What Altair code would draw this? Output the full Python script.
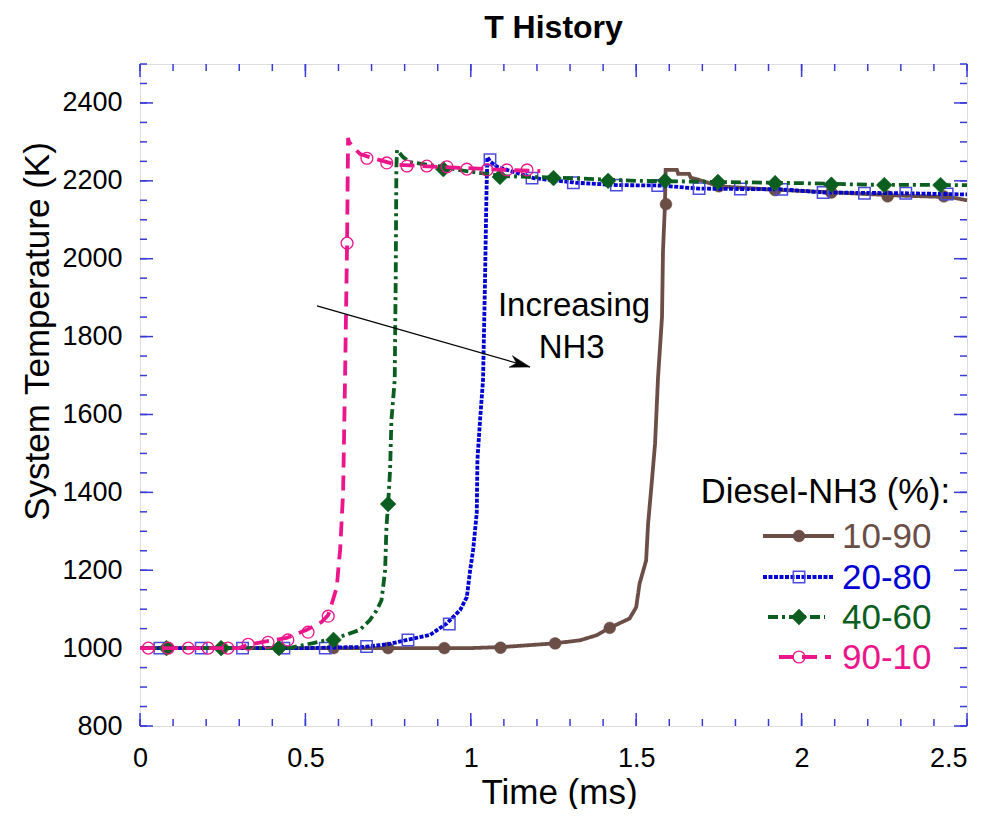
import altair as alt
import pandas as pd

# ---------------- data ----------------
series_labels = ["10-90", "20-80", "40-60", "90-10"]

t_1090 = [0, 0.5, 1.0, 1.1, 1.25, 1.33, 1.38, 1.42, 1.48, 1.50, 1.51, 1.53, 1.536, 1.547,
          1.557, 1.566, 1.578, 1.581, 1.587, 1.589, 1.623, 1.627, 1.66, 1.665, 1.70, 1.75,
          1.9, 2.0, 2.1, 2.3, 2.45, 2.5]
T_1090 = [1000, 1000, 1000, 1003, 1012, 1020, 1033, 1052, 1076, 1105, 1165, 1225, 1320, 1425,
          1525, 1695, 1850, 2020, 2140, 2228, 2228, 2218, 2218, 2208, 2200, 2186,
          2178, 2174, 2170, 2162, 2158, 2150]
mt_1090 = [0.085, 0.25, 0.42, 0.585, 0.75, 0.92, 1.09, 1.255, 1.42, 1.59, 1.75, 1.92, 2.09, 2.26, 2.43]
mT_1090 = [1000, 1000, 1000, 1000, 1000, 1000, 1001, 1012, 1052, 2140, 2186, 2176, 2170, 2160, 2160]

t_2080 = [0, 0.5, 0.675, 0.75, 0.807, 0.877, 0.928, 0.968, 0.988, 0.998, 1.007, 1.018, 1.02,
          1.028, 1.037, 1.043, 1.046, 1.048, 1.05, 1.058, 1.08, 1.14, 1.19, 1.32, 1.44, 1.57,
          1.69, 1.94, 2.07, 2.32, 2.5]
T_2080 = [1000, 1000, 1003, 1010, 1021, 1034, 1064, 1098, 1131, 1200, 1252, 1347, 1483,
          1586, 1689, 1945, 2100, 2194, 2261, 2250, 2236, 2220, 2207, 2195, 2189, 2188,
          2180, 2178, 2170, 2168, 2165]
mt_2080 = [0.06, 0.185, 0.31, 0.435, 0.56, 0.685, 0.81, 0.935, 1.058, 1.185, 1.31, 1.44,
           1.565, 1.69, 1.815, 1.94, 2.065, 2.19, 2.315, 2.44]
mT_2080 = [1000, 1000, 1000, 1000, 1000, 1004, 1021, 1062, 2254, 2207, 2195, 2189,
           2188, 2180, 2179, 2178, 2170, 2168, 2168, 2166]

t_4060 = [0, 0.45, 0.524, 0.595, 0.665, 0.695, 0.716, 0.73, 0.735, 0.741, 0.745, 0.75, 0.756,
          0.76, 0.77, 0.773, 0.775, 0.777, 0.795, 0.816, 0.92, 0.977, 1.1, 1.3, 1.5, 1.75,
          2.0, 2.2, 2.5]
T_4060 = [1000, 1000, 1013, 1026, 1047, 1072, 1098, 1123, 1157, 1200, 1311, 1370, 1457,
          1585, 1689, 1945, 2236, 2279, 2261, 2248, 2235, 2226, 2212, 2207, 2200, 2197,
          2194, 2190, 2189]
mt_4060 = [0.08, 0.245, 0.42, 0.585, 0.75, 0.917, 1.088, 1.25, 1.415, 1.587, 1.747, 1.92, 2.09, 2.25, 2.42]
mT_4060 = [1000, 1000, 1000, 1021, 1370, 2230, 2210, 2207, 2200, 2200, 2197, 2194, 2190, 2189, 2189]

t_9010 = [0, 0.3, 0.323, 0.385, 0.443, 0.504, 0.549, 0.569, 0.583, 0.595, 0.6, 0.605, 0.614,
          0.62, 0.626, 0.629, 0.632, 0.644, 0.665, 0.705, 0.777, 0.9, 0.977, 1.1, 1.21]
T_9010 = [1000, 1000, 1008, 1018, 1026, 1047, 1067, 1085, 1123, 1157, 1208, 1252, 1400,
          1700, 2040, 2310, 2300, 2287, 2269, 2258, 2241, 2236, 2233, 2228, 2225]
mt_9010 = [0.025, 0.085, 0.146, 0.206, 0.266, 0.327, 0.387, 0.447, 0.508, 0.569, 0.626,
           0.686, 0.746, 0.807, 0.867, 0.928, 0.988, 1.049, 1.109, 1.17]
mT_9010 = [1000, 1000, 1000, 1000, 1000, 1010, 1015, 1021, 1041, 1082, 2040,
           2258, 2246, 2238, 2238, 2236, 2230, 2228, 2228, 2228]

x_major = [0, 0.5, 1.0, 1.5, 2.0, 2.5]
x_minor = [round(0.1 * i, 1) for i in range(26)]
y_major = [800, 1000, 1200, 1400, 1600, 1800, 2000, 2200, 2400]
y_minor = list(range(800, 2501, 50))

arrow_start = (0.535, 1879)
arrow_end = (1.179, 1722)
note_lines = ["Increasing", "NH3"]
note_pos = [(1.312, 1852), (1.305, 1746)]
chart_title = "T History"

# ---------------- styling ----------------
W, H = 827, 662
FONT = "Liberation Sans"
FRAME = "#2a2ad4"
TICK = "#3a3ad8"

styles = [
    dict(color="#6b4f47", dash=[1, 0], shape="circle", filled=True, size=140, mcolor="#6b4f47", msw=0),
    dict(color="#0000d2", dash=[4, 1.5], shape="square", filled=False, size=130, mcolor="#4a4ae0", msw=1.5),
    dict(color="#0b5e1f", dash=[10, 4, 3, 4], shape="diamond", filled=True, size=250, mcolor="#0b5e1f", msw=0),
    dict(color="#ec168b", dash=[15, 8], shape="circle", filled=False, size=140, mcolor="#ec168b", msw=1.3),
]
line_data = [(t_1090, T_1090), (t_2080, T_2080), (t_4060, T_4060), (t_9010, T_9010)]
mark_data = [(mt_1090, mT_1090), (mt_2080, mT_2080), (mt_4060, mT_4060), (mt_9010, mT_9010)]

xs = alt.Scale(domain=[0, 2.5], nice=False, zero=False)
ys = alt.Scale(domain=[800, 2500], nice=False, zero=False)

xaxis = alt.Axis(values=x_major, format="~g", title="Time (ms)", ticks=False, tickSize=0,
                 domain=False, grid=False, labelFontSize=27, labelPadding=19,
                 labelFlush=False,
                 labelAlign={"condition": {"test": "datum.value >= 2.5", "value": "right"},
                             "value": "center"},
                 labelFont=FONT, labelColor="black", titleFont=FONT, titleFontSize=35,
                 titleFontWeight="normal", titleColor="black", titleBaseline="alphabetic",
                 titleX=419, titleY=77, titleAnchor="start", titleAlign="center")
yaxis = alt.Axis(values=y_major, format="d", title="System Temperature (K)", ticks=False,
                 tickSize=0, domain=False, grid=False, labelFontSize=27, labelPadding=18,
                 labelFont=FONT, labelColor="black", titleFont=FONT, titleFontSize=35,
                 titleFontWeight="normal", titleColor="black", titleAngle=-90,
                 titleBaseline="alphabetic", titleAlign="center", titleX=-92, titleY=267,
                 titleAnchor="start")


def X(f):
    return alt.X(f, type="quantitative", scale=xs, axis=xaxis)


def Y(f):
    return alt.Y(f, type="quantitative", scale=ys, axis=yaxis)


def marker_kwargs(st):
    pk = dict(shape=st["shape"], filled=st["filled"], size=st["size"], opacity=1)
    if st["filled"]:
        pk.update(fill=st["mcolor"], stroke=st["mcolor"], strokeWidth=0.5)
    else:
        pk.update(stroke=st["mcolor"], strokeWidth=st["msw"], fill="white", fillOpacity=0)
    return pk


layers = []

# inward ticks on all four sides
for vals, ln in ((x_minor, 7), (x_major, 13)):
    d = pd.DataFrame({"v": vals})
    layers.append(alt.Chart(d).mark_rule(color=TICK, strokeWidth=1.5).encode(
        x=X("v"), y=alt.value(H), y2=alt.value(H - ln)))
    layers.append(alt.Chart(d).mark_rule(color=TICK, strokeWidth=1.5).encode(
        x=X("v"), y=alt.value(0), y2=alt.value(ln)))
for vals, ln in ((y_minor, 7), (y_major, 13)):
    d = pd.DataFrame({"v": vals})
    layers.append(alt.Chart(d).mark_rule(color=TICK, strokeWidth=1.5).encode(
        y=Y("v"), x=alt.value(0), x2=alt.value(ln)))
    layers.append(alt.Chart(d).mark_rule(color=TICK, strokeWidth=1.5).encode(
        y=Y("v"), x=alt.value(W), x2=alt.value(W - ln)))

# series lines and markers
for (tt, TT), (mt, mT), st in zip(line_data, mark_data, styles):
    d = pd.DataFrame({"t": tt, "T": TT, "i": list(range(len(tt)))})
    layers.append(alt.Chart(d).mark_line(color=st["color"], strokeWidth=3.8,
                                         strokeDash=st["dash"]).encode(
        x=X("t"), y=Y("T"), order="i:Q"))
    dm = pd.DataFrame({"t": mt, "T": mT})
    layers.append(alt.Chart(dm).mark_point(**marker_kwargs(st)).encode(x=X("t"), y=Y("T")))

# arrow annotation
da = pd.DataFrame({"t": [arrow_start[0]], "T": [arrow_start[1]],
                   "t2": [arrow_end[0]], "T2": [arrow_end[1]]})
layers.append(alt.Chart(da).mark_rule(color="black", strokeWidth=1.2).encode(
    x=X("t"), y=Y("T"), x2="t2", y2="T2"))
dh = pd.DataFrame({"t": [arrow_end[0]], "T": [arrow_end[1]]})
layers.append(alt.Chart(dh).mark_point(
    shape="M0,0 L-2,-0.6 L-1.4,0 L-2,0.6 Z", size=400, filled=True, fill="black",
    stroke="black", strokeWidth=0.5, opacity=1, angle=16).encode(x=X("t"), y=Y("T")))
dn = pd.DataFrame({"txt": note_lines, "t": [p[0] for p in note_pos], "T": [p[1] for p in note_pos]})
layers.append(alt.Chart(dn).mark_text(font=FONT, fontSize=33, baseline="alphabetic",
                                      align="center", color="black").encode(
    x=X("t"), y=Y("T"), text="txt:N"))

# chart title (text mark above the plot)
layers.append(alt.Chart(pd.DataFrame({"txt": [chart_title]})).mark_text(
    font=FONT, fontSize=32, fontWeight="bold", align="center", baseline="alphabetic",
    color="black").encode(x=alt.value(W / 2), y=alt.value(-26), text="txt:N"))

# legend (drawn manually, pixel layout)
leg_title_y = 439
row_y = [472, 513, 553, 593]
seg = [(623, 694), (623, 693), (628, 685), (639, 691)]
layers.append(alt.Chart(pd.DataFrame({"txt": ["Diesel-NH3 (%):"]})).mark_text(
    font=FONT, fontSize=34.5, align="right", baseline="alphabetic", color="black").encode(
    x=alt.value(810), y=alt.value(leg_title_y), text="txt:N"))
for lab, st, ry, (s0, s1) in zip(series_labels, styles, row_y, seg):
    d1 = pd.DataFrame({"txt": [lab]})
    layers.append(alt.Chart(d1).mark_rule(color=st["color"], strokeWidth=3.8,
                                          strokeDash=st["dash"]).encode(
        x=alt.value(s0), x2=alt.value(s1), y=alt.value(ry)))
    layers.append(alt.Chart(d1).mark_point(**marker_kwargs(st)).encode(
        x=alt.value(659), y=alt.value(ry)))
    layers.append(alt.Chart(d1).mark_text(font=FONT, fontSize=35, align="left",
                                          baseline="middle", color=st["color"]).encode(
        x=alt.value(702), y=alt.value(ry + 1), text="txt:N"))

chart = alt.layer(*layers).properties(
    width=W, height=H,
    autosize=alt.AutoSizeParams(type="none"),
    padding={"left": 132, "top": 56, "right": 8, "bottom": 83},
).configure_view(stroke=FRAME, strokeWidth=2).configure(background="white")

chart.save("out.html", embed_options={"renderer": "svg", "actions": False})
